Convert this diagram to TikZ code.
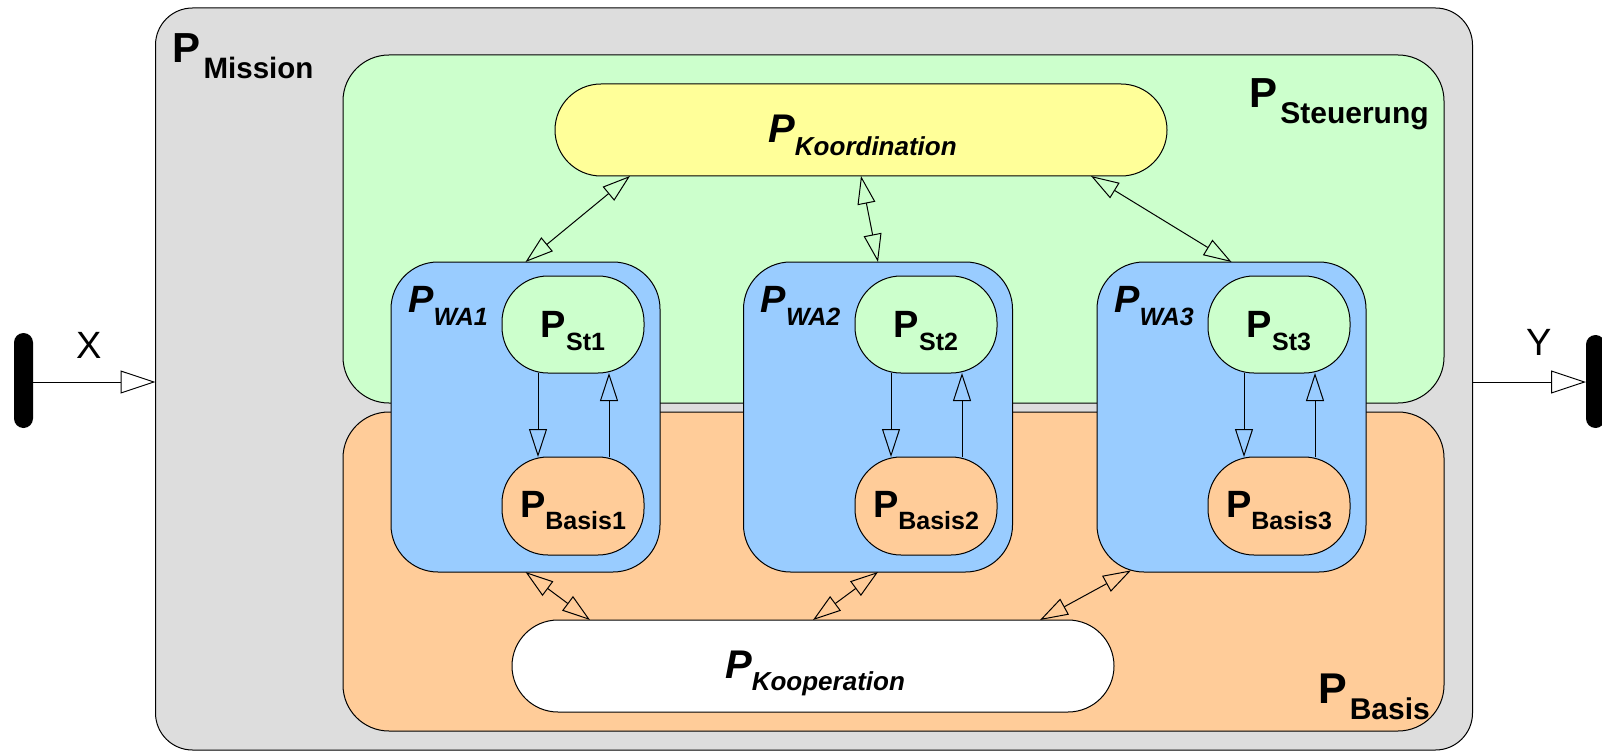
\documentclass[tikz,border=0pt]{standalone}
\usepackage{fontspec}
\setmainfont{Liberation Sans}
\usetikzlibrary{arrows.meta,shapes.misc}

\definecolor{missiongray}{HTML}{DDDDDD}
\definecolor{steuergreen}{HTML}{CCFFCC}
\definecolor{koordyellow}{HTML}{FFFF99}
\definecolor{basisorange}{HTML}{FFCC99}
\definecolor{wablue}{HTML}{99CCFF}

% P with a lowered subscript: #1 size of P, #2 size of subscript, #3 drop, #4 subscript
\newcommand\plabel[4]{{\fontsize{#1}{#1}\selectfont P}\lower#3pt\hbox{\fontsize{#2}{#2}\selectfont #4}}
% same, with a little extra space before the subscript
\newcommand\pwide[4]{{\fontsize{#1}{#1}\selectfont P}\kern3pt\lower#3pt\hbox{\fontsize{#2}{#2}\selectfont #4}}

\begin{document}
\begin{tikzpicture}[x=1pt,y=-1pt,
  box/.style={draw=black, line width=1pt, inner sep=0pt, outer sep=0pt},
  area/.style={box, rounded corners=46pt},
  pill/.style={box, rounded rectangle, rounded rectangle arc length=180, minimum height=92pt},
  sub/.style={box, rounded corners=46pt, minimum width=142pt, minimum height=97pt},
  wa/.style={box, fill=wablue, rounded corners=47pt, minimum width=269pt, minimum height=310pt},
  both/.style={line width=1pt, {Triangle[open, length=28pt, width=18pt]}-{Triangle[open, length=28pt, width=18pt]}},
  one/.style={line width=1pt, -{Triangle[open, length=28pt, width=18pt]}},
  io/.style={line width=1pt, -{Triangle[open, length=35pt, width=23pt]}},
  bar/.style={fill=black, inner sep=0pt, outer sep=0pt, minimum width=19pt, rounded corners=9.5pt},
  lab/.style={inner sep=0pt, anchor=base, font=\bfseries},
  ilab/.style={inner sep=0pt, anchor=base, font=\bfseries\itshape},
]
\useasboundingbox (0,0) rectangle (1602,751);

% outer process and its two layers
\node[box, fill=missiongray, rounded corners=37pt, minimum width=1317pt, minimum height=742pt] (mission) at (814,379) {};
\node[area, fill=steuergreen, minimum width=1101pt, minimum height=348pt] (steuer) at (893.5,229) {};
\node[area, fill=basisorange, minimum width=1101pt, minimum height=319pt] (basis) at (893.5,571.5) {};

% coordination and cooperation
\node[pill, fill=koordyellow, minimum width=612pt] (koord) at (861,130) {};
\node[pill, fill=white, minimum width=602pt] (koop) at (813,666) {};

% work units
\node[wa] (wa1) at (525.5,417) {};
\node[wa] (wa2) at (878,417) {};
\node[wa] (wa3) at (1231.5,417) {};

\node[sub, fill=steuergreen] (st1) at (573,324.5) {};
\node[sub, fill=steuergreen] (st2) at (926,324.5) {};
\node[sub, fill=steuergreen] (st3) at (1279,324.5) {};
\node[sub, fill=basisorange, minimum height=98pt] (b1) at (573,506) {};
\node[sub, fill=basisorange, minimum height=98pt] (b2) at (926,506) {};
\node[sub, fill=basisorange, minimum height=98pt] (b3) at (1279,506) {};

% links to coordination
\draw[both] ([xshift=-231pt]koord.south) -- (wa1.north);
\draw[both] (koord.south) -- (wa2.north);
\draw[both] ([xshift=230pt]koord.south) -- (wa3.north);

% links to cooperation
\draw[both] (wa1.south) -- ([xshift=-223pt]koop.north);
\draw[both] (wa2.south) -- (koop.north);
\draw[both] ([xshift=34pt,yshift=1.6pt]wa3.south west) -- ([xshift=227pt]koop.north);

% control and base inside each unit
\foreach \i in {1,2,3}{
  \draw[one] ([xshift=-35pt]st\i.south) -- ([xshift=-35pt]b\i.north);
  \draw[one] ([xshift=36pt]b\i.north) -- ([xshift=36pt]st\i.south);
}

% input and output terminals
\coordinate (io) at (0,382);
\node[bar, minimum height=95pt] (xin) at (23.5,380.5) {};
\node[bar, minimum height=93pt] (yout) at (1595.5,381.5) {};
\draw[io] (xin.east |- io) -- (mission.west |- io);
\draw[io] (mission.east |- io) -- (yout.west |- io);
\node[inner sep=0pt, anchor=base, font=\fontsize{38}{38}\selectfont] (xlab) at (89.5,358) {X};
\node[inner sep=0pt, anchor=base, font=\fontsize{38}{38}\selectfont] (ylab) at (1539.5,355) {Y};

% labels
\node[lab] (lmission) at (243,63) {\pwide{42}{29.5}{16}{Mission}};
\node[lab] (lsteuer) at (1339,108) {\pwide{42}{30}{16}{Steuerung}};
\node[lab] (lbasis) at (1374,703) {\pwide{43}{30}{16}{Basis}};
\node[ilab] (lkoord) at (862.5,143) {\plabel{40}{26}{13}{Koordination}};
\node[ilab] (lkoop) at (815,678) {\plabel{40}{26}{12}{Kooperation}};
\node[ilab] (lwa1) at (448,312) {\plabel{38}{25}{13}{WA1}};
\node[ilab] (lwa2) at (800.5,312) {\plabel{38}{25}{13}{WA2}};
\node[ilab] (lwa3) at (1154,312) {\plabel{38}{25}{13}{WA3}};
\node[lab] (lst1) at (573,337) {\plabel{38}{25}{13}{St1}};
\node[lab] (lst2) at (926,337) {\plabel{38}{25}{13}{St2}};
\node[lab] (lst3) at (1279,337) {\plabel{38}{25}{13}{St3}};
\node[lab] (lb1) at (573,517) {\plabel{38}{25}{12}{Basis1}};
\node[lab] (lb2) at (926,517) {\plabel{38}{25}{12}{Basis2}};
\node[lab] (lb3) at (1279,517) {\plabel{38}{25}{12}{Basis3}};
\end{tikzpicture}
\end{document}
